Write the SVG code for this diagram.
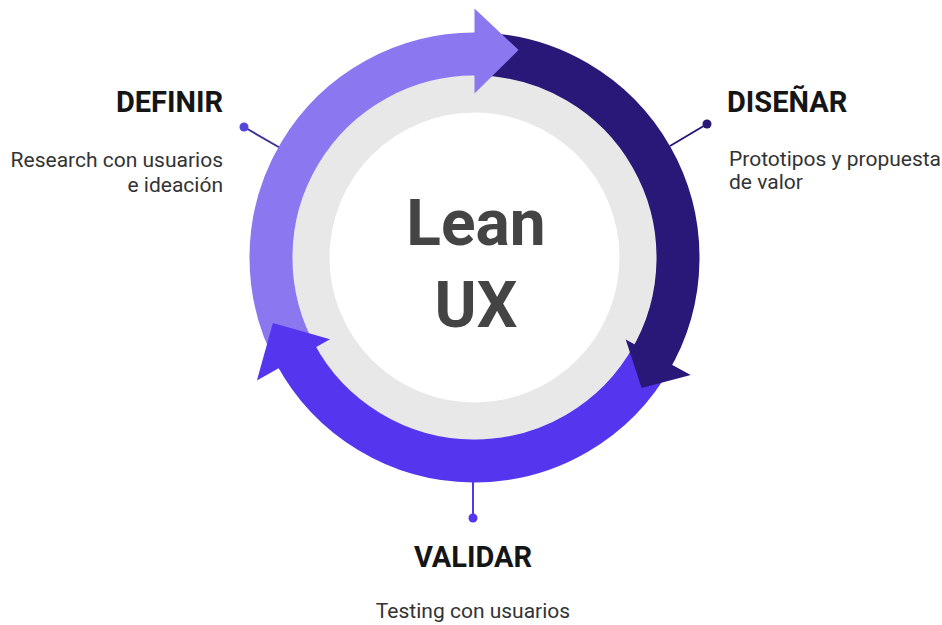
<svg xmlns="http://www.w3.org/2000/svg" width="942" height="625" viewBox="0 0 942 625">
  <style>
    text { font-family: Roboto, "Liberation Sans", sans-serif; }
    .head { font-size: 29px; font-weight: 700; fill: #151515; }
    .body { font-size: 21px; font-weight: 400; fill: #333333; }
    .center { font-size: 64px; font-weight: 700; fill: #444444; text-anchor: middle; }
    .band { fill: none; stroke-width: 43; }
    .lightc { stroke: #8B78F1; }
    .darkc { stroke: #2A1878; }
    .midc { stroke: #5535EE; }
    .conn { stroke-width: 2; fill: none; }
  </style>
  <rect width="942" height="625" fill="#ffffff"/>

  <g id="connectors">
    <line class="conn" x1="244" y1="127" x2="282" y2="149" stroke="#3D3295"/>
    <circle cx="244" cy="127" r="4.5" fill="#5546DA"/>
    <line class="conn" x1="707" y1="124" x2="670" y2="146" stroke="#2A1878"/>
    <circle cx="707" cy="124" r="4.5" fill="#2A1878"/>
    <line class="conn" x1="473" y1="478" x2="473" y2="518" stroke="#5535EE"/>
    <circle cx="473" cy="518" r="4.5" fill="#5535EE"/>
  </g>

  <g id="ring">
    <circle cx="474.5" cy="257.5" r="163.5" fill="none" stroke="#E8E8E8" stroke-width="37"/>
    <path class="band darkc" d="M474.5,54 A203.5,203.5 0 0 1 648.94,362.31"/>
    <path class="band lightc" d="M298.26,359.25 A203.5,203.5 0 0 1 479.83,54.07"/>
    <path class="band midc" d="M652.48,356.16 A203.5,203.5 0 0 1 295.03,353.37"/>
    <polygon points="474.5,8.5 518.6,50.1 474.5,93.5" fill="#8B78F1"/>
    <polygon points="625.7,339.6 690.7,374.9 641.6,388" fill="#2A1878"/>
    <polygon points="330,339.2 256.9,380.6 272.9,323" fill="#5535EE"/>
  </g>

  <g id="lean-ux">
    <text class="center" x="476" y="245">Lean</text>
    <text class="center" x="476" y="327">UX</text>
  </g>

  <g id="definir">
    <text class="head" x="223" y="112" text-anchor="end">DEFINIR</text>
    <text class="body" x="223" y="167" text-anchor="end">Research con usuarios</text>
    <text class="body" x="223" y="192" text-anchor="end">e ideación</text>
  </g>

  <g id="disenar">
    <text class="head" x="727" y="112">DISEÑAR</text>
    <text class="body" x="729" y="166">Prototipos y propuesta</text>
    <text class="body" x="729" y="189">de valor</text>
  </g>

  <g id="validar">
    <text class="head" x="473" y="567" text-anchor="middle">VALIDAR</text>
    <text class="body" x="473" y="618" text-anchor="middle">Testing con usuarios</text>
  </g>
</svg>
